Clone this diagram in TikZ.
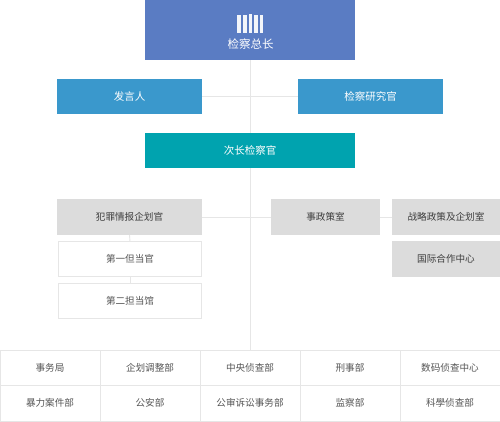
\documentclass[tikz,border=0pt]{standalone}
\usepackage{fontspec}
\setmainfont{Noto Sans CJK SC}
\usetikzlibrary{backgrounds}
\definecolor{topblue}{HTML}{5A7CC3}
\definecolor{midblue}{HTML}{3A98CC}
\definecolor{tealbox}{HTML}{00A3AF}
\definecolor{grayfill}{HTML}{DCDCDC}
\definecolor{linegray}{HTML}{E6E6E6}
\definecolor{cellline}{HTML}{E6E6E6}
\definecolor{txtgray}{HTML}{555555}
\tikzset{
  x=1pt,y=-1pt,
  base/.style={inner sep=0pt,outer sep=0pt,align=center},
  topbox/.style={base,fill=topblue,minimum width=210pt,minimum height=60pt},
  bluebox/.style={base,fill=midblue,text=white,font=\fontsize{10.5}{12}\selectfont,minimum width=145pt,minimum height=35pt},
  tealnode/.style={base,fill=tealbox,text=white,font=\fontsize{10.5}{12}\selectfont,minimum width=210pt,minimum height=35pt},
  graybox/.style={base,fill=grayfill,text=txtgray!70!black,font=\fontsize{9.6}{11}\selectfont,minimum height=36pt},
  whitebox/.style={base,fill=white,draw=linegray,line width=0.8pt,text=txtgray,font=\fontsize{9.6}{11}\selectfont,minimum width=143.2pt,minimum height=35.2pt},
  cell/.style={base,fill=white,draw=cellline,line width=0.8pt,text=txtgray,font=\fontsize{9.6}{11}\selectfont,minimum width=100pt,minimum height=35.5pt},
  conn/.style={draw=linegray,line width=0.9pt},
  bar/.style={fill=white!92!topblue}
}
\begin{document}
\begin{tikzpicture}
\useasboundingbox (0,0) rectangle (500,421);
\node[topbox] (top) at (250,30) {};
\node[base,text=white,font=\fontsize{11.5}{13}\selectfont] (toplabel) at (250.5,44.5) {检察总长};
\foreach \xx/\yy in {239/15,245/15,250.5/14,256/15,261.5/15}
  \fill[bar] (\xx-1.8,\yy) rectangle (\xx+1.8,33);
\node[bluebox] (speak) at (129.5,96.5) {发言人};
\node[bluebox] (research) at (370.5,96.5) {检察研究官};
\node[tealnode] (deputy) at (250,150.5) {次长检察官};
\node[graybox,minimum width=145pt] (crime) at (129.5,217) {犯罪情报企划官};
\node[whitebox] (first) at (130,259) {第一但当官};
\node[whitebox] (second) at (130,301) {第二担当馆};
\node[graybox,minimum width=109pt] (policy) at (325.5,217) {事政策室};
\node[graybox,minimum width=108pt] (strategy) at (446,217) {战略政策及企划室};
\node[graybox,minimum width=108pt] (intl) at (446,259) {国际合作中心};
\node[cell] (c11) at (50,367.75) {事务局};
\node[cell] (c12) at (150,367.75) {企划调整部};
\node[cell] (c13) at (250,367.75) {中央侦查部};
\node[cell] (c14) at (350,367.75) {刑事部};
\node[cell] (c15) at (450,367.75) {数码侦查中心};
\node[cell] (c21) at (50,403.25) {暴力案件部};
\node[cell] (c22) at (150,403.25) {公安部};
\node[cell] (c23) at (250,403.25) {公审诉讼事务部};
\node[cell] (c24) at (350,403.25) {监察部};
\node[cell] (c25) at (450,403.25) {科學侦查部};
\begin{scope}[on background layer]
\fill[white] (0,0) rectangle (500,421);
\draw[conn] (top.south) -- (deputy.north);
\draw[conn] (deputy.south) -- (c13.north);
\draw[conn] (speak.east) -- (research.west);
\draw[conn] (crime.east) -- (policy.west);
\draw[conn] (policy.east) -- (strategy.west);
\draw[conn] (crime.south) -- (first.north);
\draw[conn] (first.south) -- (second.north);
\end{scope}
\end{tikzpicture}
\end{document}
